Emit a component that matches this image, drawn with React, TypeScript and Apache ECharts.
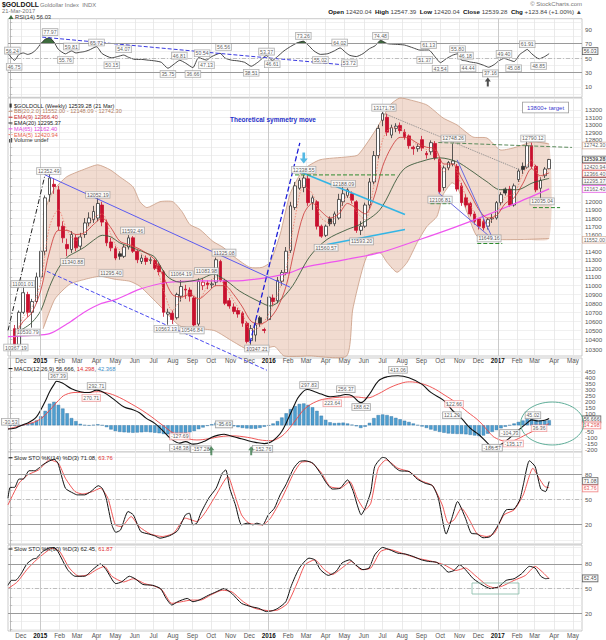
import React, { useEffect, useRef } from "react";
import * as echarts from "echarts";

const FONT = "'Liberation Sans', Arial, Helvetica, sans-serif";
const L = Math.log;

/* ---------- x axis: week number, 0 = week ending 14 Nov 2014 ---------- */
const monthTicks = [2.43, 6.86, 11.29, 15.29, 19.71, 24.0, 28.43, 32.71, 37.14, 41.57, 45.86, 50.29, 54.57, 59.0, 63.43, 67.57, 72.0, 76.29, 80.71, 85.0, 89.43, 93.86, 98.14, 102.57, 106.86, 111.29, 115.71, 119.71, 124.14, 128.43];
const monthLabels = ["Dec", "2015", "Feb", "Mar", "Apr", "May", "Jun", "Jul", "Aug", "Sep", "Oct", "Nov", "Dec", "2016", "Feb", "Mar", "Apr", "May", "Jun", "Jul", "Aug", "Sep", "Oct", "Nov", "Dec", "2017", "Feb", "Mar", "Apr", "May"];
const yearTicks = [6.86, 59.0, 111.29];

/* ---------- price panel ---------- */
const priceTicks = [10300, 10400, 10500, 10600, 10700, 10800, 10900, 11000, 11100, 11200, 11300, 11400, 11500, 11600, 11700, 11800, 11900, 12000, 12100, 12200, 12300, 12400, 12500, 12600, 12700, 12800, 12900, 13000, 13100, 13200];
// tick labels left visible beside the value boxes
const priceTickLabels = [10300, 10400, 10500, 10600, 10700, 10800, 10900, 11000, 11100, 11200, 11300, 11400, 11600, 11700, 11800, 11900, 12000, 12800, 12900, 13000, 13100, 13200];
const priceRange = [10225.5, 13365.4];
const firstWeek = 1;
// weekly [open, high, low, close]
const ohlc = [
  [10520, 10560, 10367, 10340], [10340, 10720, 10330, 10700], [10700, 11001, 10680, 10920], [10900, 10930, 10650, 10700],
  [10700, 10850, 10531, 10820], [10820, 11150, 10800, 11100], [11100, 11450, 11050, 11400], [11400, 12080, 11350, 12050],
  [12090, 12352, 12000, 12300], [12220, 12300, 12100, 12190], [12150, 12200, 11650, 11700], [11700, 11760, 11500, 11560],
  [11480, 11550, 11341, 11430], [11420, 11640, 11380, 11600], [11560, 11600, 11400, 11440], [11460, 11620, 11420, 11570],
  [11600, 11800, 11560, 11740], [11740, 11870, 11700, 11800], [11780, 11950, 11740, 11880], [11800, 12052, 11760, 11980],
  [11960, 12000, 11700, 11750], [11750, 11780, 11460, 11500], [11510, 11560, 11400, 11440], [11430, 11460, 11295, 11320],
  [11370, 11400, 11300, 11340], [11340, 11480, 11320, 11450], [11450, 11592, 11420, 11560], [11560, 11580, 11380, 11400],
  [11400, 11430, 11260, 11300], [11280, 11360, 11250, 11320], [11320, 11350, 11240, 11280], [11290, 11330, 11250, 11300],
  [11290, 11310, 11180, 11200], [11230, 11260, 11120, 11160], [11160, 11180, 10650, 10700], [10680, 10740, 10563, 10700],
  [10690, 10720, 10570, 10620], [10640, 10920, 10620, 10900], [10880, 11064, 10820, 10990], [10960, 11010, 10850, 10950],
  [10950, 10980, 10820, 10880], [10860, 10880, 10547, 10560], [10570, 11084, 10550, 11050], [11000, 11080, 10950, 11040],
  [11030, 11060, 10960, 11010], [11010, 11070, 10970, 11020], [11040, 11325, 11000, 11300], [11280, 11300, 11040, 11060],
  [11060, 11080, 10780, 10800], [10830, 10860, 10740, 10770], [10760, 10800, 10680, 10710], [10720, 10750, 10640, 10680],
  [10690, 10710, 10540, 10580], [10580, 10600, 10360, 10380], [10390, 10560, 10347, 10520], [10450, 10620, 10380, 10560],
  [10640, 10660, 10540, 10580], [10510, 10530, 10470, 10500], [10620, 10900, 10600, 10870], [10860, 10900, 10780, 10820],
  [10830, 11100, 10800, 11060], [11050, 11180, 11000, 11150], [11150, 11450, 11120, 11400], [11410, 12000, 11380, 11950],
  [11930, 12250, 11900, 12200], [12170, 12300, 12150, 12270], [12180, 12338, 12120, 12300], [12290, 12330, 11950, 11990],
  [11990, 12080, 11900, 12050], [12000, 12020, 11660, 11700], [11700, 11720, 11560, 11580], [11590, 11720, 11570, 11700],
  [11790, 11820, 11700, 11730], [11730, 11880, 11700, 11850], [11800, 12100, 11780, 12030], [12000, 12188, 11950, 12100],
  [12080, 12170, 12050, 12150], [12100, 12130, 11980, 12020], [12000, 12020, 11620, 11650], [11650, 11760, 11593, 11700],
  [11700, 11990, 11680, 11960], [11960, 12300, 11900, 12250], [12250, 12650, 12220, 12590], [12590, 13000, 12550, 12950],
  [13060, 13172, 12980, 13150], [13100, 13150, 12850, 12900], [12860, 13000, 12820, 12960], [12950, 13020, 12900, 12980],
  [12990, 13030, 12880, 12920], [12900, 12940, 12800, 12840], [12850, 12870, 12680, 12720], [12700, 12720, 12600, 12680],
  [12680, 12740, 12640, 12710], [12800, 12850, 12650, 12690], [12620, 12650, 12550, 12600], [12640, 12790, 12600, 12760],
  [12750, 12780, 12530, 12560], [12540, 12560, 12106, 12130], [12180, 12460, 12140, 12430], [12430, 12520, 12400, 12500],
  [12480, 12748, 12450, 12520], [12450, 12480, 12130, 12160], [12200, 12240, 11950, 11990], [12050, 12100, 11930, 11960],
  [11980, 12000, 11820, 11850], [11850, 11880, 11720, 11760], [11790, 11800, 11660, 11700], [11760, 11790, 11649, 11680],
  [11700, 11800, 11660, 11780], [11790, 11850, 11740, 11800], [11800, 12010, 11780, 11990], [11990, 12120, 11960, 12090],
  [12160, 12180, 12080, 12110], [12160, 12200, 11940, 11960], [11960, 12230, 11940, 12200], [12280, 12420, 12250, 12390],
  [12450, 12500, 12350, 12410], [12440, 12790, 12420, 12720], [12720, 12760, 12420, 12450], [12450, 12470, 12120, 12150],
  [12170, 12310, 12035, 12270], [12330, 12440, 12300, 12415.44], [12420.04, 12547.39, 12420.04, 12539.28],
];
const bbUpper = [[7.5, 11842], [9.8, 12139], [12.9, 12316], [16.6, 12406], [20, 12470], [22.8, 12406], [25, 12316], [28, 12190], [29.6, 12002], [31.2, 11928], [34.2, 12002], [37.1, 12002], [39.2, 11879], [41, 11721], [43.3, 11660], [46.3, 11516], [48.6, 11446], [51.3, 11327], [54.7, 11211], [57.5, 11211], [59.3, 11270], [61.6, 11600], [63.9, 12102], [66.9, 12406], [70.7, 12535], [76.9, 12573], [79.4, 12600], [83.7, 12955], [86.7, 13269], [88.9, 13365], [91.3, 13338], [95.1, 13269], [98.8, 13091], [102, 12996], [105.6, 12835], [108.8, 12822], [111.8, 12665], [114.8, 12690], [119.3, 12770], [123, 12742.3]];
const bbLower = [[7.5, 10519], [10.2, 10848], [13.6, 11017], [17.1, 11073], [20.5, 11108], [23.9, 11073], [27.3, 11050], [29.6, 10993], [34.2, 10770], [38.7, 10551], [43.3, 10519], [46.7, 10497], [50.9, 10379], [54.7, 10284], [58.2, 10305], [60.4, 10326], [62.5, 10226], [68.4, 10226], [76.8, 10226], [78.2, 10737], [81.4, 11340], [84.4, 11383], [86, 11270], [88.3, 11154], [90.6, 11270], [92.9, 11505], [95.1, 11697], [97.4, 11820], [98.8, 12089], [100.8, 12240], [102, 12190], [104.3, 11866], [106.6, 11576], [111.1, 11540], [117.1, 11540], [123, 11552]];
const ma65 = [[-0.5, 10433], [5, 10447], [9, 10465], [13, 10573], [17, 10704], [20.5, 10793], [24.4, 10848], [29.6, 10960], [35.8, 11036], [43.3, 11054], [50.9, 11054], [58.6, 11093], [63.9, 11150], [66.9, 11208], [76.8, 11304], [84.4, 11383], [93.5, 11540], [101.1, 11680], [108, 11820], [115.6, 11987], [123, 12162.4]];
const ema20 = [[1, 10480], [3, 10520], [5, 10590], [7, 10720], [9, 10990], [11, 11200], [13, 11330], [15, 11390], [17, 11450], [19, 11530], [21, 11590], [23, 11570], [25, 11500], [27, 11460], [29, 11420], [31, 11380], [33, 11330], [35.8, 11108], [38.7, 11040], [43.3, 11073], [46.3, 11131], [49.5, 11050], [52.4, 10937], [57, 10815], [59.3, 10770], [63.9, 10960], [68.4, 11340], [72.3, 11540], [76.9, 11660], [79.8, 11721], [84.4, 11903], [89.7, 12406], [95.1, 12535], [98.1, 12560], [101.9, 12510], [104.9, 12406], [108.8, 12253], [111.8, 12152], [115.7, 12152], [119.3, 12240], [123, 12295.37]];
const ema9 = [[1, 10450], [3, 10600], [5, 10700], [7, 10950], [9, 11400], [11, 11650], [13, 11650], [15, 11600], [17, 11620], [19, 11720], [21, 11800], [23, 11680], [25, 11520], [27, 11480], [29, 11440], [31, 11380], [33, 11300], [35, 11100], [37, 10900], [39, 10870], [41, 10900], [43, 10850], [45, 10920], [47, 11000], [49, 11000], [51, 10900], [53, 10760], [55, 10600], [57, 10570], [59, 10620], [61, 10750], [63, 11000], [65, 11450], [67, 11850], [69, 11980], [71, 11880], [73, 11800], [75, 11850], [77, 11980], [79, 11920], [81, 11850], [83, 12050], [85, 12450], [87, 12700], [89, 12830], [91, 12820], [93, 12750], [95, 12700], [97, 12680], [99, 12480], [101, 12480], [103, 12300], [105, 12100], [107, 11900], [109, 11800], [111, 11830], [113, 11980], [115, 12050], [117, 12230], [119, 12420], [121, 12330], [123, 12366.4]];
const ema5 = [[1, 10420], [3, 10650], [5, 10760], [7, 11050], [9, 11700], [11, 11900], [13, 11650], [15, 11530], [17, 11630], [19, 11800], [21, 11850], [23, 11600], [25, 11420], [27, 11480], [29, 11420], [31, 11320], [33, 11260], [35, 10950], [37, 10720], [39, 10850], [41, 10920], [43, 10850], [45, 10990], [47, 11100], [49, 11000], [51, 10830], [53, 10680], [55, 10500], [57, 10540], [59, 10680], [61, 10900], [63, 11200], [65, 11800], [67, 12200], [69, 12100], [71, 11800], [73, 11740], [75, 11880], [77, 12080], [79, 11880], [81, 11780], [83, 12200], [85, 12800], [87, 12960], [89, 12950], [91, 12830], [93, 12720], [95, 12670], [97, 12660], [99, 12380], [101, 12480], [103, 12200], [105, 11960], [107, 11780], [109, 11740], [111, 11870], [113, 12060], [115, 12100], [117, 12350], [119, 12530], [121, 12300], [123, 12420.94]];
// chartist trend lines: [week, price] end points
const trendLines = [
  { pts: [[-0.5, 10500], [8, 12352]], color: "#222222", type: [5, 2, 1, 2], width: 1, clip: true },
  { pts: [[7.9, 12342], [63.9, 10982]], color: "#5b5bf0", type: "solid", width: 1, clip: true },
  { pts: [[8.4, 11165], [58.6, 10075]], color: "#4a4af0", type: "dashed", width: 1, clip: false },
  { pts: [[54.3, 10284], [66.1, 12757]], color: "#1f1fd8", type: "dashed", width: 1.3, clip: true },
  { pts: [[66.1, 12380], [90.1, 11842]], color: "#33b5e5", type: "solid", width: 1.6, clip: true },
  { pts: [[72.3, 11481], [90.1, 11660]], color: "#33b5e5", type: "solid", width: 1.6, clip: true },
  { pts: [[65, 12340], [88.3, 12340]], color: "#2e8b2e", type: "dashed", width: 1, clip: true },
  { pts: [[85.1, 13159], [116.8, 12393]], color: "#888888", type: "dotted", width: 1, clip: true },
  { pts: [[97.7, 12762], [128.2, 12697]], color: "#5a8a5a", type: "dashed", width: 1, clip: true },
  { pts: [[97.7, 12114], [110.2, 11540]], color: "#6a6ae0", type: "solid", width: 1, clip: true },
  { pts: [[102, 12535], [110.2, 11540]], color: "#6a6ae0", type: "solid", width: 1, clip: true },
  { pts: [[95.9, 11977], [100.4, 11977]], color: "#2e8b2e", type: "dashed", width: 1, clip: true },
  { pts: [[106.6, 11492], [112.3, 11492]], color: "#2e8b2e", type: "dashed", width: 1, clip: true },
  { pts: [[119.3, 11928], [125.5, 11928]], color: "#2e8b2e", type: "dashed", width: 1, clip: true },
];
// pivot labels: [text, week, price at label centre]
const priceNotes = [
  ["12352.49", 8.8, 12390], ["11001.01", 2.9, 11017], ["10530.79", 4.0, 10478], ["10367.19", 1.3, 10316],
  ["12052.19", 20, 12089], ["11340.88", 14.2, 11273], ["11592.46", 27.9, 11648], ["11295.40", 23, 11143],
  ["10563.13", 35.6, 10519], ["11064.19", 39, 11131], ["10546.84", 41.5, 10501], ["11083.98", 44.8, 11168],
  ["11325.08", 48.8, 11384], ["10347.21", 56.3, 10305], ["12338.55", 67, 12406], ["11560.57", 72.1, 11442],
  ["12188.09", 76, 12228], ["11593.20", 80.2, 11517], ["13171.75", 85.3, 13232], ["12106.81", 98.1, 12027],
  ["12748.26", 101.1, 12816], ["11649.16", 109.3, 11553], ["12790.12", 119.3, 12816], ["12035.04", 121.4, 12006],
];
// last values on the right axis: [value, border colour, text colour, bold, nudge px]
const priceLast = [[12742.3, "#c99a82", "#333", false, 1.5], [12162.4, "#e040e0", "#333", false, 0], [11552.0, "#c99a82", "#333", false, 1.2], [12295.37, "#555555", "#333", false, 2.5], [12366.4, "#cc3333", "#333", false, 0.8], [12420.94, "#ee7777", "#333", false, -2], [12539.28, "#222222", "#111", true, 0]];
const cyanArrow = [67, 12560];

/* ---------- RSI(14) ---------- */
const rsiData = [[-0.5, 56.24], [1, 46.75], [2, 55], [3, 57], [4, 55], [5, 57], [6, 62], [7, 70], [8, 76], [9, 77.97], [10, 72], [11, 62], [12.6, 55.76], [14, 59.81], [15, 57], [16, 58], [17, 59], [18, 61], [19.7, 65.72], [21, 56], [23.2, 50.15], [24.5, 52], [25.9, 54.07], [27, 51], [28.5, 48], [30, 48], [31.5, 47], [33, 46], [34.5, 44], [36, 35.75], [37.5, 42], [38.7, 46.81], [40, 43], [41.7, 36.66], [43, 50.54], [44.8, 47.13], [46, 52], [47.9, 56.56], [49, 50], [50.5, 47], [52, 46], [53.5, 44], [55, 38.51], [56.5, 44], [58.5, 53.37], [59.8, 46.61], [61, 52], [62.5, 60], [64, 66], [65.5, 71], [66.9, 73.26], [68, 68], [69.3, 60], [70.8, 55.02], [72.5, 56], [74, 60], [75.3, 64.02], [76.5, 58], [77.5, 53.72], [79, 52], [80.5, 56], [82, 63], [83.3, 67], [84.5, 74.48], [86, 70], [88, 69], [90, 68], [92, 64], [93.5, 61], [95.5, 61.13], [97, 51.37], [98.2, 43.54], [99.5, 49], [101, 54], [102.1, 55.8], [103, 47], [103.9, 46.18], [105, 44.44], [106.5, 43], [108, 40], [109.2, 37.16], [110.5, 41], [111.5, 46], [112.7, 49.4], [114, 47], [115, 45.08], [116.3, 55], [117, 58], [118, 61.91], [119, 56], [120.7, 48.85], [122, 52], [123, 56.03]];
const rsiPeaks = [
  [[7, 70], [8, 76], [9, 77.97], [10, 72], [10.2, 70]],
  [[65.2, 70], [65.5, 71], [66.9, 73.26], [67.6, 70]],
  [[83.9, 70], [84.5, 74.48], [86, 70]],
];
const rsiTrend = [[7.3, 79], [77, 40]];
const rsiLabels = [10, 30, 50, 70, 90];
const pctGrid = [0, 10, 20, 30, 40, 50, 60, 70, 80, 90, 100];
// [text, week, value at label centre]
const rsiNotes = [
  ["56.24", 0.5, 60.3], ["46.75", 0.9, 37.9], ["77.97", 9.1, 86], ["59.81", 13.95, 65.9], ["55.76", 12.6, 47.3],
  ["65.72", 19.7, 71.5], ["50.15", 23.2, 39.9], ["54.07", 25.9, 62.2], ["35.75", 36, 27.7], ["46.81", 38.6, 53.3],
  ["36.66", 41.7, 27.7], ["50.54", 43.8, 56.6], ["47.13", 44.8, 39.9], ["56.56", 48.7, 65.2], ["38.51", 55, 29.5],
  ["53.37", 58.5, 58.9], ["46.61", 59.8, 41.3], ["73.26", 66.9, 80.8], ["55.02", 70.8, 47.3], ["64.02", 75.2, 71.5],
  ["53.72", 77.4, 42.7], ["74.48", 84.5, 80.8], ["61.13", 95.5, 68.3], ["51.37", 94.6, 47.3], ["43.54", 98.1, 35.1],
  ["55.80", 102.1, 62.2], ["46.18", 103.9, 53.3], ["44.44", 104.5, 35.7], ["37.16", 109.6, 28.7], ["49.40", 112.7, 55.7],
  ["45.08", 114.9, 35.7], ["61.91", 118, 69.2], ["48.85", 120.6, 38.9],
];
const rsiLast = [[56.03, "#333", "#111", false, -2.5]];
const rsiArrow = [109, 16.5];

/* ---------- MACD(12,26,9) ---------- */
const macdLine = [[-0.5, -30.53], [1, -25], [2, -10], [3, 5], [4, 20], [5, 40], [6, 70], [7, 130], [8, 200], [9, 280], [10, 340], [10.6, 367.39], [12, 350], [14, 305], [16, 280], [18, 272.71], [19.7, 292.71], [21, 280], [22, 260], [24, 206], [26, 152], [28, 130], [29.5, 105], [31, 60], [33, 16], [35, -51], [36.5, -106], [38.7, -148.38], [40, -136], [41.8, -157.28], [44, -138], [46, -100], [47.5, -82], [48.8, -75], [50, -85], [52, -105], [54, -125], [56, -142], [58, -152.76], [59.5, -140], [61, -95], [62, -50], [63, 20], [64, 100], [65, 180], [66, 245], [67.8, 297.83], [69.5, 280], [71, 260], [73, 238], [75, 245], [76.5, 256.37], [78, 247], [80, 188.62], [82, 260], [84, 369], [86, 404], [88.5, 413.06], [91, 396], [94, 341], [96, 274], [99, 206], [101, 121.29], [103, 57], [105, -24], [107, -79], [109, -150], [110.3, -186.57], [112, -160], [114, -104.79], [116, -40], [118, 20], [119, 45.02], [120.5, 36.36], [122, 42], [123, 56.666]];
const macdSignal = [[-0.5, -30], [3, 3], [6.5, 43], [9, 125], [11, 206], [12.6, 255], [15.3, 274], [18, 274], [19.7, 280], [21.5, 274], [24, 247], [27.6, 179], [31.2, 98], [34.7, 3], [37.3, -65], [40, -105], [42.6, -122], [45.3, -112], [47.9, -95], [50.6, -88], [54.1, -100], [57.6, -125], [59.4, -128], [61.1, -110], [62.9, -60], [65.5, 60], [67.3, 140], [70, 200], [72.6, 223.64], [76.1, 235], [78.8, 236], [81.4, 228], [84, 262], [86.7, 315], [89.4, 352], [91.1, 362], [93.8, 348], [96.4, 312], [99, 255], [101.7, 190], [104.4, 110], [107, 35], [109.6, -70], [110.5, -100], [112.3, -128], [114, -135.17], [116, -110], [117.6, -80], [120.2, -35], [123, 14.298]];
// histogram, one bar per week from week 0
const macdHist = [-3, -2, 2, 5, 10, 20, 40, 75, 120, 180, 195, 170, 140, 100, 60, 35, 12, 2, -2, 3, 8, 0, -15, -35, -48, -55, -58, -60, -62, -60, -58, -55, -58, -62, -66, -72, -75, -76, -72, -68, -65, -58, -48, -32, -18, -5, 8, 22, 18, 10, 2, -8, -16, -22, -26, -28, -28, -22, -12, -2, 15, 35, 65, 100, 135, 160, 178, 182, 170, 150, 120, 80, 45, 25, 18, 20, 22, 15, 5, -8, -22, -12, 20, 60, 85, 90, 85, 75, 62, 50, 38, 28, 15, 2, -10, -22, -35, -45, -55, -62, -68, -70, -72, -72, -75, -80, -85, -90, -85, -70, -55, -40, -25, -12, 0, 15, 28, 40, 52, 50, 45, 40, 38, 42.368];
const macdTicks = [-200, -150, -100, -50, 0, 50, 100, 150, 200, 250, 300, 350, 400, 450];
const macdTickLabels = [-200, -150, -100, -50, 100, 150, 200, 250, 300, 350, 400, 450];
// [text, week, value at label centre, border colour]
const macdNotes = [
  ["-30.53", 0, 30, "#888"], ["367.39", 10.9, 409, "#888"], ["292.71", 19.7, 328, "#888"], ["270.71", 18.5, 228, "#e88"],
  ["-127.69", 38.7, -92, "#e88"], ["-148.38", 38.7, -187, "#888"], ["-157.28", 43.5, -200, "#888"], ["-35.69", 48.8, 8, "#888"],
  ["-152.76", 57.6, -195, "#888"], ["297.83", 68.2, 336, "#888"], ["223.64", 73.5, 184, "#e88"], ["256.37", 76.6, 301, "#888"],
  ["188.62", 80.1, 152, "#888"], ["413.06", 88.5, 463, "#888"], ["122.66", 101.3, 179, "#e88"], ["121.29", 100.8, 84, "#888"],
  ["-104.73", 114, -65, "#888"], ["-135.17", 114.8, -152, "#e88"], ["-186.57", 110, -187, "#888"], ["45.02", 119.3, 84, "#888"],
  ["36.36", 120.7, -24, "#e88"],
];
const macdLast = [[56.666, "#333", "#111", false, 0.9], [14.298, "#ee6666", "#dd2222", false, 1.8]];
const macdArrows = [[45.9, -212], [55, -212]];
const macdCircle = [123.7, 15, 14.4, 358];

/* ---------- Slow STO %K(14) %D(3) ---------- */
const sto1K = [[-0.5, 51], [0, 64], [1, 64], [2, 74], [3, 74], [4.3, 84], [5.6, 84], [6.5, 87], [7.4, 91], [8.7, 95], [10, 98], [10.9, 93], [12.6, 63], [14.4, 57], [15.3, 55], [17, 55], [18.4, 59], [20.1, 66], [21, 63], [21.9, 51], [23.2, 19], [24.1, 10], [25.2, 13], [26.9, 35], [28.1, 31], [29.8, 11], [31.6, 8], [32.9, 6], [34.2, 3], [36.4, 6], [38.2, 12], [40, 31], [40.9, 33], [41.7, 19], [42.6, 21], [43.5, 33], [45.3, 51], [47, 63], [48.4, 81], [49.2, 85], [50.1, 63], [51.4, 43], [52.8, 19], [54.1, 21], [55.4, 19], [56.3, 21], [57.6, 19], [58.9, 31], [60.3, 39], [61.6, 55], [62.9, 67], [64.7, 87], [66, 95], [67.3, 96], [69.1, 93], [70.8, 81], [72.2, 69], [73.5, 62], [75.3, 63], [77, 73], [78.3, 59], [79.2, 43], [80.1, 31], [81, 39], [82.3, 59], [83.2, 89], [85, 100], [85.8, 99], [87.6, 89], [88.9, 84], [91.1, 83], [92.9, 74], [94.7, 69], [96.4, 66], [97.7, 51], [99.5, 8], [100.8, 27], [102.1, 47], [103.9, 27], [105.2, 9], [106.6, 8], [107.9, 3.5], [109.6, 5], [111.4, 19], [113.2, 37], [115, 38], [116.3, 49], [117.1, 67], [118.5, 96], [119.8, 89], [121.1, 62], [122.2, 59], [123, 71.08]];
const sto1D = [[-0.5, 43], [2, 69], [4, 79], [6.5, 85], [9, 97], [11, 93], [12.6, 75], [14.8, 59], [16.6, 56], [18.8, 59], [20.6, 63], [22.3, 51], [24, 19], [25.4, 17], [27.6, 29], [29.4, 17], [32, 8], [34.7, 5], [37.3, 9], [40, 27], [42.6, 23], [44.4, 33], [47, 55], [49.7, 77], [51, 59], [52.8, 31], [54.5, 21], [57.6, 19], [59.4, 27], [62, 51], [64.7, 81], [66.4, 94], [68.2, 95], [70.8, 83], [73, 65], [75.3, 63], [77.5, 71], [79.2, 51], [81, 37], [82.3, 45], [84, 87], [85.8, 97], [88.5, 87], [91, 83], [93.8, 72], [96.4, 66], [98.6, 43], [100, 21], [101.3, 25], [103, 39], [104.8, 25], [106.6, 8], [108.8, 5], [110.5, 9], [112.7, 31], [115, 37], [117.1, 55], [119.3, 87], [120.7, 75], [122, 65], [123, 63.76]];
const sto1Last = [[71.08, "#333", "#111", false, -0.5], [63.76, "#ee6666", "#dd2222", false, 0.8]];

/* ---------- Slow STO %K(60) %D(3) ---------- */
const sto2K = [[-0.5, 54], [0.3, 60], [1.2, 60], [2.5, 68], [3.8, 80], [5.2, 86], [6, 87], [7.4, 95], [8.7, 99], [10, 100], [10.9, 95], [13.1, 73], [14.8, 65], [17, 65], [18.8, 73], [20.6, 80], [21.9, 73], [24.1, 56], [25.4, 58], [27.2, 65], [28.5, 62], [30.3, 55], [32.5, 54], [34.3, 50], [35.6, 38], [36.9, 30], [38.2, 34], [40.4, 38], [41.7, 34], [43.1, 36], [45.3, 42], [47, 46], [48.8, 50], [50.6, 44], [52.8, 32], [55, 28], [56.7, 26], [58.5, 22], [59.8, 23], [61.1, 26], [62.9, 34], [64.2, 54], [66, 75], [68.2, 87], [69.5, 85], [70.8, 73], [72.6, 66], [74.4, 71], [75.7, 81], [77.5, 85], [78.8, 79], [80.5, 73], [81.9, 75], [83.2, 91], [85, 100], [86.7, 97], [88.5, 93], [90.2, 92], [92, 89], [93.8, 85], [95.5, 83], [97.3, 82], [98.6, 77], [100, 70], [101.3, 72], [102.6, 79], [103.9, 73], [105.7, 62], [107.9, 54], [109.6, 50], [111.4, 52], [113.2, 60], [115, 62], [116.7, 68], [118.5, 77], [119.8, 75], [121.1, 65], [122.2, 62], [123, 62.45]];
const sto2D = [[-0.5, 50], [1.6, 58], [3.8, 73], [5.6, 83], [7.8, 93], [9.6, 99], [11.3, 95], [13.5, 75], [15.7, 65], [17.9, 67], [19.7, 73], [21.5, 77], [23.2, 65], [25.9, 58], [28.1, 62], [30.7, 56], [32.9, 53], [34.7, 48], [36.9, 32], [39.1, 34], [41.3, 36], [43.5, 36], [45.7, 42], [48.4, 48], [50.6, 46], [53.2, 34], [55.8, 26], [59.4, 23], [61.1, 24], [63.3, 32], [65.6, 58], [67.3, 79], [69.5, 85], [71.7, 73], [73.5, 67], [75.7, 75], [77.9, 83], [80.1, 73], [82.3, 75], [84.5, 95], [86.3, 98], [89.4, 93], [92.9, 87], [96.4, 83], [99, 79], [101.7, 72], [103.9, 75], [106.1, 66], [108.8, 54], [110.5, 51], [112.3, 53], [115, 60], [117.6, 66], [119.8, 77], [121.5, 70], [123, 61.87]];
const sto2Last = [[62.45, "#333", "#111", false, 0]];
const sto2Box = [105.4, 56.8, 116.1, 43.4];
const stoLabels = [20, 50, 80];

/* ---------- helpers ---------- */
const fmtMonth = (v: number) => {
  let k = 0;
  let best = 1e9;
  monthTicks.forEach((t, j) => {
    const d = Math.abs(t - v);
    if (d < best) { best = d; k = j; }
  });
  const s = monthLabels[k];
  return /^\d{4}$/.test(s) ? `{y|${s}}` : s;
};

const boxLabel = (border: string, color = "#333", bold = false) => ({
  show: true,
  formatter: "{b}",
  fontSize: 5.2,
  lineHeight: 5.6,
  fontFamily: FONT,
  fontWeight: bold ? "bold" : "normal",
  color,
  backgroundColor: "#ffffff",
  borderColor: border,
  borderWidth: 0.7,
  padding: [0.6, 1, 0, 1],
});

const noteSeries = (g: number, notes: any[], map: (v: number) => number, border = "#999") => ({
  type: "scatter",
  xAxisIndex: g,
  yAxisIndex: g,
  symbol: "circle",
  symbolSize: 0.1,
  itemStyle: { color: "rgba(0,0,0,0)" },
  silent: true,
  z: 20,
  data: notes.map((n: any) => ({ name: n[0], value: [n[1], map(n[2])], label: boxLabel(n[3] || border) })),
  label: { position: "inside" },
});

const lastSeries = (g: number, items: any[], map: (v: number) => number, digits: number) => ({
  type: "scatter",
  xAxisIndex: g,
  yAxisIndex: g,
  symbol: "circle",
  symbolSize: 0.1,
  itemStyle: { color: "rgba(0,0,0,0)" },
  silent: true,
  z: 25,
  data: items.map((it: any) => ({
    name: it[0].toFixed(digits),
    value: [130.5, map(it[0])],
    label: { ...boxLabel(it[1], it[2], !!it[3]), position: "right", distance: 0.6, offset: [0, it[4] || 0] },
  })),
});

const lineS = (g: number, data: any[], color: string, width: number, extra: any = {}) => ({
  type: "line",
  xAxisIndex: g,
  yAxisIndex: g,
  data,
  symbol: "none",
  showSymbol: false,
  silent: true,
  smooth: 0.3,
  lineStyle: { color, width },
  z: 4,
  ...extra,
});

const yearMarks = yearTicks.map((x) => ({ xAxis: x, lineStyle: { color: "#c6c6c6", width: 0.9, type: "solid" } }));
const hLine = (y: number, color: string, width: number, type: any) => ({ yAxis: y, lineStyle: { color, width, type } });
const markLines = (data: any[]) => ({ silent: true, symbol: "none", label: { show: false }, data });

const upArrow = "path://M3,0 L6,4 L4,4 L4,9 L2,9 L2,4 L0,4 Z";

function buildOption() {
  const grids = [
    { left: 8, right: 24, top: 18.7, height: 78.6 },
    { left: 8, right: 24, top: 98, height: 258 },
    { left: 8, right: 24, top: 358, height: 94 },
    { left: 8, right: 24, top: 452, height: 92 },
    { left: 8, right: 24, top: 545, height: 86 },
  ].map((g) => ({ ...g, show: true, borderColor: "#bdbdbd", borderWidth: 0.8, backgroundColor: "#ffffff" }));

  const xAxis = [0, 1, 2, 3, 4].map((g) => ({
    type: "value",
    gridIndex: g,
    min: -0.5,
    max: 130.5,
    axisLine: { show: false },
    axisTick: { show: false, customValues: monthTicks },
    axisLabel: {
      show: g === 1 || g === 4,
      customValues: monthTicks,
      formatter: fmtMonth,
      fontSize: 6.3,
      lineHeight: 6.5,
      fontFamily: FONT,
      color: "#555",
      margin: 1.5,
      rich: { y: { fontSize: 6.3, lineHeight: 6.5, fontFamily: FONT, fontWeight: "bold", color: "#111" } },
    },
    splitLine: { show: true, lineStyle: { color: "#e4e4e4", width: 0.8 } },
  }));

  const yBase = (g: number, min: number, max: number, labels: number[], ticks: number[], fmt?: (v: number) => string) => ({
    type: "value",
    gridIndex: g,
    position: "right",
    min,
    max,
    axisLine: { show: true, lineStyle: { color: "#aaaaaa", width: 0.8 } },
    axisTick: { show: true, length: 2, customValues: ticks, lineStyle: { color: "#aaaaaa", width: 0.6 } },
    axisLabel: { customValues: labels, fontSize: 6.2, lineHeight: 6, fontFamily: FONT, color: "#555", margin: 3, formatter: fmt },
    splitLine: { show: true, lineStyle: { color: "#ececec", width: 0.8 } },
  });

  const priceFmt = (v: number) => String(Math.round(Math.exp(v)));
  const yAxis = [
    yBase(0, -4.6, 104.6, rsiLabels, pctGrid),
    yBase(1, L(priceRange[0]), L(priceRange[1]), priceTickLabels.map(L), priceTicks.map(L), priceFmt),
    yBase(2, -222.5, 560.8, macdTickLabels, macdTicks),
    yBase(3, -4, 106.5, stoLabels, pctGrid),
    yBase(4, -1.6, 103, stoLabels, pctGrid),
  ];

  const lnPts = (arr: number[][]) => arr.map(([i, p]) => [i, L(p)]);

  const candleData = ohlc.map((r, k) => {
    const [o, h, l, c] = r;
    const prev = k > 0 ? ohlc[k - 1][3] : o;
    const filled = c < o;
    const col = c < prev ? "#c8102e" : "#333333";
    const fill = filled ? col : "#ffffff";
    return {
      value: [firstWeek + k, L(o), L(c), L(l), L(h)],
      itemStyle: { color: fill, color0: fill, borderColor: col, borderColor0: col, borderWidth: 0.8 },
    };
  });

  const series: any[] = [];

  /* RSI */
  series.push(lineS(0, rsiData, "#333333", 0.9, {
    smooth: 0.2,
    markLine: markLines([...yearMarks, hLine(70, "#9a9a9a", 1.2, "solid"), hLine(30, "#9a9a9a", 1.2, "solid"), hLine(50, "#b0b0b0", 0.8, [4, 2, 1, 2])]),
  }));
  rsiPeaks.forEach((pk) => series.push(lineS(0, pk, "#3d6b3d", 0.6, { smooth: 0.2, areaStyle: { origin: 70, color: "#3d6b3d", opacity: 1 }, z: 3 })));
  series.push(lineS(0, rsiTrend, "#3a3ae0", 1, { smooth: false, lineStyle: { color: "#3a3ae0", width: 1, type: [4, 2] } }));
  series.push(noteSeries(0, rsiNotes, (v) => v));
  series.push(lastSeries(0, rsiLast, (v) => v, 2));
  series.push({ type: "scatter", xAxisIndex: 0, yAxisIndex: 0, symbol: upArrow, symbolSize: [6, 9], itemStyle: { color: "#222" }, silent: true, z: 21, data: [rsiArrow] });

  /* price panel */
  series.push({
    type: "custom",
    xAxisIndex: 1,
    yAxisIndex: 1,
    silent: true,
    z: 1,
    data: [[0, L(12000)]],
    renderItem: (params: any, api: any) => {
      const up = bbUpper.map(([i, p]) => api.coord([i, L(p)]));
      const lo = bbLower.map(([i, p]) => api.coord([i, L(p)]));
      return {
        type: "group",
        children: [
          { type: "polygon", shape: { points: up.concat(lo.slice().reverse()), smooth: 0.2 }, style: { fill: "rgba(222,170,144,0.42)", stroke: "none" } },
          { type: "polyline", shape: { points: up, smooth: 0.2 }, style: { stroke: "#c99a82", lineWidth: 0.8, fill: "none" } },
          { type: "polyline", shape: { points: lo, smooth: 0.2 }, style: { stroke: "#c99a82", lineWidth: 0.8, fill: "none" } },
        ],
      };
    },
  });
  series.push(lineS(1, lnPts(ma65), "#ee55ee", 1.2, { markLine: markLines(yearMarks) }));
  series.push(lineS(1, lnPts(ema20), "#3b5a3b", 0.9));
  series.push({
    type: "candlestick",
    xAxisIndex: 1,
    yAxisIndex: 1,
    barWidth: 3.2,
    silent: true,
    z: 3,
    encode: { x: 0, y: [1, 2, 3, 4] },
    data: candleData,
  });
  series.push(lineS(1, lnPts(ema9), "#cc3333", 0.8, { z: 5 }));
  series.push(lineS(1, lnPts(ema5), "#f07a6a", 0.8, { z: 5, lineStyle: { color: "#f07a6a", width: 0.8, type: [1.5, 1.5] } }));
  trendLines.forEach((t) =>
    series.push(lineS(1, lnPts(t.pts), t.color, t.width, { smooth: false, clip: t.clip, z: 6, lineStyle: { color: t.color, width: t.width, type: t.type } }))
  );
  series.push({ type: "scatter", xAxisIndex: 1, yAxisIndex: 1, symbol: upArrow, symbolRotate: 180, symbolSize: [8, 11], itemStyle: { color: "#2aa7dd" }, silent: true, z: 21, data: [[cyanArrow[0], L(cyanArrow[1])]] });
  series.push(noteSeries(1, priceNotes, L));
  series.push(lastSeries(1, priceLast, L, 2));

  /* MACD */
  series.push({
    type: "bar",
    xAxisIndex: 2,
    yAxisIndex: 2,
    barWidth: 3.4,
    silent: true,
    z: 2,
    itemStyle: { color: "#4f9fd0", borderColor: "#2f6f9f", borderWidth: 0.4 },
    data: macdHist.map((v, i) => [i, v]),
    markLine: markLines([...yearMarks]),
  });
  series.push(lineS(2, macdSignal, "#ee4444", 0.9, { smooth: 0.4 }));
  series.push(lineS(2, macdLine, "#111111", 1.1, { smooth: 0.4 }));
  series.push(noteSeries(2, macdNotes, (v) => v));
  series.push(lastSeries(2, macdLast, (v) => v, 3));
  series.push({ type: "scatter", xAxisIndex: 2, yAxisIndex: 2, symbol: upArrow, symbolSize: [6, 9], itemStyle: { color: "#3b7a4b" }, silent: true, clip: false, z: 21, data: macdArrows });
  series.push({
    type: "custom",
    xAxisIndex: 2,
    yAxisIndex: 2,
    silent: true,
    clip: false,
    z: 30,
    data: [macdCircle],
    renderItem: (params: any, api: any) => {
      const c = api.coord([api.value(0), api.value(1)]);
      const s = api.size([api.value(2), api.value(3)]);
      return { type: "ellipse", shape: { cx: c[0], cy: c[1], rx: s[0] / 2, ry: s[1] / 2 }, style: { fill: "none", stroke: "#5fae99", lineWidth: 1 } };
    },
  });

  /* STO 14 */
  series.push(lineS(3, sto1D, "#ee4444", 0.9, {
    smooth: 0.2,
    markLine: markLines([...yearMarks, hLine(80, "#9a9a9a", 1.2, "solid"), hLine(20, "#9a9a9a", 1.2, "solid"), hLine(50, "#b0b0b0", 0.8, [4, 2, 1, 2])]),
  }));
  series.push(lineS(3, sto1K, "#111111", 1, { smooth: 0.2 }));
  series.push(lastSeries(3, sto1Last, (v) => v, 2));

  /* STO 60 */
  series.push(lineS(4, sto2D, "#ee4444", 0.9, {
    smooth: 0.2,
    markLine: markLines([...yearMarks, hLine(80, "#9a9a9a", 1.2, "solid"), hLine(20, "#9a9a9a", 1.2, "solid"), hLine(50, "#b0b0b0", 0.8, [4, 2, 1, 2])]),
  }));
  series.push(lineS(4, sto2K, "#111111", 1, { smooth: 0.2 }));
  series.push(lastSeries(4, sto2Last, (v) => v, 2));
  series.push({
    type: "custom",
    xAxisIndex: 4,
    yAxisIndex: 4,
    silent: true,
    z: 30,
    data: [sto2Box],
    renderItem: (params: any, api: any) => {
      const a = api.coord([api.value(0), api.value(1)]);
      const b = api.coord([api.value(2), api.value(3)]);
      return { type: "rect", shape: { x: a[0], y: a[1], width: b[0] - a[0], height: b[1] - a[1] }, style: { fill: "none", stroke: "#8fbfae", lineWidth: 0.9 } };
    },
  });

  /* texts */
  const T = (x: number, y: number, text: string, o: any = {}) => ({
    type: "text",
    x,
    y,
    silent: true,
    z: 50,
    style: {
      text,
      fontSize: o.size || 6.5,
      fontFamily: FONT,
      fontWeight: o.bold ? "bold" : "normal",
      fill: o.color || "#333",
      align: o.align || "left",
      verticalAlign: "middle",
      ...(o.rich ? { rich: o.rich } : {}),
      ...(o.box ? { backgroundColor: "#ffffff", borderColor: "#999", borderWidth: 0.8, padding: [2, 4] } : {}),
    },
  });
  const seg = (y: number, color: string, dash?: number[]) => ({
    type: "line",
    silent: true,
    z: 50,
    shape: { x1: 8.5, y1: y, x2: 12.5, y2: y },
    style: { stroke: color, lineWidth: 1, lineDash: dash },
  });
  const bold = { fontWeight: "bold", fontSize: 6.2, fontFamily: FONT, fill: "#111" };
  const red = { fontSize: 5.8, fontFamily: FONT, fill: "#e03030" };
  const blue = { fontSize: 5.8, fontFamily: FONT, fill: "#3c8fc8" };

  const legendY = [105.6, 111.4, 117.2, 123.0, 128.8, 134.6, 140.4];
  const graphic = [
    T(2, 4.2, "$GOLDOLL", { bold: true, size: 6.8, color: "#111" }),
    T(40, 4.5, "Goldollar Index  INDX", { size: 5.8, color: "#777" }),
    T(2, 11.2, "21-Mar-2017", { size: 5.8, color: "#777" }),
    T(582, 3.8, "© StockCharts.com", { size: 6, color: "#777", align: "right" }),
    T(582, 11.2, "{b|Open} 12420.04  {b|High} 12547.39  {b|Low} 12420.04  {b|Close} 12539.28  {b|Chg} +123.84 (+1.00%) ▲", { size: 6.2, color: "#444", align: "right", rich: { b: bold } }),
    { type: "polygon", silent: true, z: 50, shape: { points: [[8.5, 19], [11, 15], [13.5, 19]] }, style: { fill: "#3d6b3d" } },
    T(15, 17.2, "RSI(14) 56.03", { size: 5.8 }),
    { type: "rect", silent: true, z: 50, shape: { x: 9.5, y: legendY[0] - 2, width: 2.2, height: 4 }, style: { fill: "#333" } },
    T(14, legendY[0], "$GOLDOLL (Weekly) 12539.28 (21 Mar)", { size: 5.6, color: "#222" }),
    seg(legendY[1], "#c99a82"),
    T(14, legendY[1], "BB(20,2.0) 11552.00 - 12148.09 - 12742.30", { size: 5.6, color: "#b27c62" }),
    seg(legendY[2], "#cc3333"),
    T(14, legendY[2], "EMA(9) 12366.40", { size: 5.6, color: "#cc3333" }),
    seg(legendY[3], "#222"),
    T(14, legendY[3], "EMA(20) 12295.37", { size: 5.6, color: "#222" }),
    seg(legendY[4], "#ee55ee"),
    T(14, legendY[4], "MA(65) 12162.40", { size: 5.6, color: "#e040e0" }),
    seg(legendY[5], "#f07a6a", [1.5, 1.5]),
    T(14, legendY[5], "EMA(5) 12420.94", { size: 5.6, color: "#e8604a" }),
    { type: "rect", silent: true, z: 50, shape: { x: 9, y: legendY[6] - 1.5, width: 1.2, height: 3.5 }, style: { fill: "#555" } },
    { type: "rect", silent: true, z: 50, shape: { x: 11, y: legendY[6] - 2.5, width: 1.2, height: 4.5 }, style: { fill: "#555" } },
    T(14, legendY[6], "Volume undef", { size: 5.6, color: "#333" }),
    T(230, 119, "Theoretical symmetry move", { bold: true, size: 6.5, color: "#2430c8" }),
    T(545.5, 107.5, "13800+ target", { size: 6, color: "#3b3bcf", align: "center", box: true }),
    seg(368.6, "#111"),
    T(14, 368.6, "MACD(12,26,9) 56.666, {r|14.298}, {bl|42.368}", { size: 5.8, color: "#222", rich: { r: red, bl: blue } }),
    seg(457.8, "#111"),
    T(14, 457.8, "Slow STO %K(14) %D(3) 71.08, {r|63.76}", { size: 5.8, color: "#222", rich: { r: red } }),
    seg(549, "#111"),
    T(14, 549, "Slow STO %K(60) %D(3) 62.45, {r|61.87}", { size: 5.8, color: "#222", rich: { r: red } }),
  ];

  return {
    animation: false,
    backgroundColor: "#ffffff",
    textStyle: { fontFamily: FONT },
    grid: grids,
    xAxis,
    yAxis,
    series,
    graphic,
  };
}

export default function App() {
  const ref = useRef<HTMLDivElement>(null);
  useEffect(() => {
    if (!ref.current) return;
    const chart = echarts.init(ref.current, null, { renderer: "svg" });
    chart.setOption(buildOption() as any);
    return () => chart.dispose();
  }, []);
  return <div ref={ref} style={{ position: "fixed", left: 0, top: 0, width: 606, height: 640, background: "#fff" }} />;
}
